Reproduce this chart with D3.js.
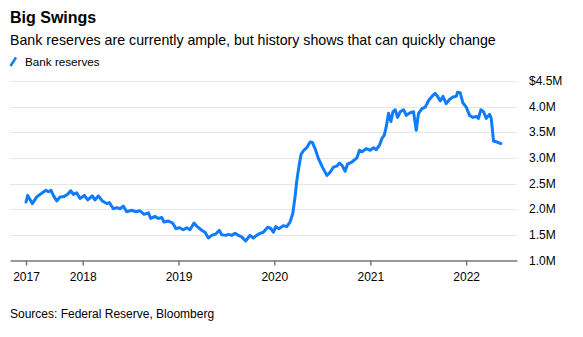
<!DOCTYPE html>
<html>
<head>
    <title>Big Swings</title>
    <script src="https://d3js.org/d3.v7.min.js"></script>
    <style>
        body { margin: 0; background: #fff; }
        text { font-family: "Liberation Sans", Arial, sans-serif; fill: #000; }
        .grid line { stroke: #e6e6e6; }
    </style>
</head>
<body>
    <svg width="583" height="337"></svg>
    <script>

        // Weekly-ish readings, dates as decimal years, reserves in $M (chart units)
        const years = [
            2017.408, 2017.426, 2017.474, 2017.520, 2017.572, 2017.617, 2017.641, 2017.669, 2017.693, 2017.729,
            2017.763, 2017.808, 2017.843, 2017.875, 2017.902, 2017.937, 2017.972, 2018.017, 2018.052, 2018.100,
            2018.128, 2018.163, 2018.205, 2018.251, 2018.278, 2018.319, 2018.355, 2018.389, 2018.424, 2018.459,
            2018.511, 2018.556, 2018.598, 2018.640, 2018.685, 2018.710, 2018.755, 2018.789, 2018.825, 2018.849,
            2018.894, 2018.939, 2018.974, 2019.008, 2019.050, 2019.086, 2019.120, 2019.162, 2019.196, 2019.242,
            2019.277, 2019.311, 2019.347, 2019.391, 2019.426, 2019.451, 2019.496, 2019.520, 2019.555, 2019.590,
            2019.624, 2019.660, 2019.701, 2019.746, 2019.781, 2019.816, 2019.851, 2019.885, 2019.931, 2019.966,
            2019.990, 2020.015, 2020.049, 2020.094, 2020.129, 2020.164, 2020.192, 2020.216, 2020.234, 2020.258,
            2020.279, 2020.303, 2020.338, 2020.373, 2020.397, 2020.425, 2020.459, 2020.501, 2020.547, 2020.581,
            2020.616, 2020.651, 2020.678, 2020.704, 2020.738, 2020.762, 2020.808, 2020.860, 2020.887, 2020.912,
            2020.957, 2020.999, 2021.033, 2021.062, 2021.096, 2021.121, 2021.145, 2021.166, 2021.190, 2021.215,
            2021.236, 2021.260, 2021.284, 2021.312, 2021.347, 2021.375, 2021.416, 2021.451, 2021.479, 2021.503,
            2021.539, 2021.573, 2021.608, 2021.643, 2021.677, 2021.701, 2021.730, 2021.758, 2021.792, 2021.827,
            2021.862, 2021.897, 2021.910, 2021.938, 2021.967, 2022.001, 2022.036, 2022.071, 2022.105, 2022.129,
            2022.154, 2022.182, 2022.210, 2022.244, 2022.262, 2022.286, 2022.322, 2022.363
        ];
        const reserves = [
            2.14, 2.27, 2.11, 2.24, 2.31, 2.37, 2.34, 2.37, 2.27, 2.16,
            2.24, 2.25, 2.29, 2.36, 2.29, 2.32, 2.21, 2.27, 2.18, 2.26,
            2.18, 2.26, 2.16, 2.11, 2.13, 2.01, 2.03, 2.01, 2.06, 1.95,
            1.98, 1.95, 1.97, 1.90, 1.93, 1.82, 1.86, 1.82, 1.84, 1.75,
            1.77, 1.73, 1.62, 1.64, 1.60, 1.64, 1.60, 1.73, 1.66, 1.59,
            1.55, 1.44, 1.49, 1.52, 1.59, 1.50, 1.49, 1.51, 1.49, 1.53,
            1.49, 1.46, 1.38, 1.49, 1.44, 1.49, 1.53, 1.55, 1.65, 1.62,
            1.55, 1.66, 1.62, 1.68, 1.66, 1.75, 1.91, 2.24, 2.55, 2.85,
            3.07, 3.14, 3.20, 3.31, 3.30, 3.18, 2.99, 2.82, 2.66, 2.72,
            2.82, 2.84, 2.90, 2.86, 2.74, 2.88, 2.92, 3.00, 3.15, 3.12,
            3.18, 3.15, 3.20, 3.16, 3.25, 3.38, 3.44, 3.61, 3.87, 3.71,
            3.90, 3.94, 3.79, 3.90, 3.94, 3.83, 3.88, 3.90, 3.54, 3.87,
            3.96, 3.99, 4.12, 4.20, 4.26, 4.20, 4.11, 4.20, 4.06, 4.14,
            4.19, 4.20, 4.28, 4.27, 4.07, 3.99, 3.83, 3.79, 3.81, 3.77,
            3.94, 3.90, 3.77, 3.85, 3.77, 3.33, 3.31, 3.28
        ];

        const xTickYears = [2017.408, 2018, 2019, 2020, 2021, 2022];
        const xTickLabels = ["2017", "2018", "2019", "2020", "2021", "2022"];
        const yTicks = [1.0, 1.5, 2.0, 2.5, 3.0, 3.5, 4.0, 4.5];

        // decimal year -> Date
        function toDate(y) {
            const yr = Math.floor(y);
            const start = Date.UTC(yr, 0, 1), end = Date.UTC(yr + 1, 0, 1);
            return new Date(start + (y - yr) * (end - start));
        }

        const data = years.map((y, i) => ({ date: toDate(y), value: reserves[i] }));

        const svg = d3.select("svg");
        const blue = "#0f7bff";

        const x = d3.scaleUtc()
            .domain([toDate(2017.241), toDate(2022.531)])
            .range([10, 517]);
        const y = d3.scaleLinear().domain([1.0, 4.5]).range([260.5, 81]);

        // Title, subtitle
        svg.append("text").attr("x", 10).attr("y", 23)
            .style("font-size", "16px").style("font-weight", "bold")
            .text("Big Swings");
        svg.append("text").attr("x", 10).attr("y", 44.5)
            .style("font-size", "14.2px")
            .text("Bank reserves are currently ample, but history shows that can quickly change");

        // Legend
        svg.append("line")
            .attr("x1", 10.5).attr("y1", 66).attr("x2", 16).attr("y2", 57.5)
            .attr("stroke", blue).attr("stroke-width", 2.5);
        svg.append("text").attr("x", 25).attr("y", 65.5)
            .style("font-size", "11.7px")
            .text("Bank reserves");

        // Gridlines
        svg.append("g")
            .attr("class", "grid")
            .selectAll("line")
            .data(yTicks.slice(1))
            .join("line")
            .attr("x1", 10).attr("x2", 517)
            .attr("y1", d => Math.round(y(d)) + 0.5)
            .attr("y2", d => Math.round(y(d)) + 0.5);

        // Y labels on the right
        svg.append("g")
            .selectAll("text")
            .data(yTicks)
            .join("text")
            .attr("x", 529)
            .attr("y", d => y(d))
            .attr("dy", "0.35em")
            .style("font-size", "12px")
            .text(d => (d === 4.5 ? "$" : "") + d.toFixed(1) + "M");

        // X axis
        const xAxis = svg.append("g")
            .attr("transform", "translate(0,260.5)")
            .call(d3.axisBottom(x)
                .tickValues(xTickYears.map(toDate))
                .tickFormat((d, i) => xTickLabels[i])
                .tickSize(5)
                .tickPadding(7)
                .tickSizeOuter(0));
        xAxis.select(".domain").attr("stroke", "#777").attr("stroke-width", 1.5);
        xAxis.selectAll(".tick line").attr("stroke", "#777").attr("stroke-width", 1.5);
        xAxis.selectAll(".tick text")
            .style("font-size", "12px")
            .style("font-family", "'Liberation Sans', Arial, sans-serif")
            .attr("fill", "#000");

        // Line
        const line = d3.line()
            .x(d => x(d.date))
            .y(d => y(d.value));

        svg.append("path")
            .datum(data)
            .attr("fill", "none")
            .attr("stroke", blue)
            .attr("stroke-width", 3)
            .attr("stroke-linejoin", "round")
            .attr("stroke-linecap", "round")
            .attr("d", line);

        // Source
        svg.append("text").attr("x", 10).attr("y", 317.5)
            .style("font-size", "12px")
            .text("Sources: Federal Reserve, Bloomberg");

    </script>
</body>
</html>
